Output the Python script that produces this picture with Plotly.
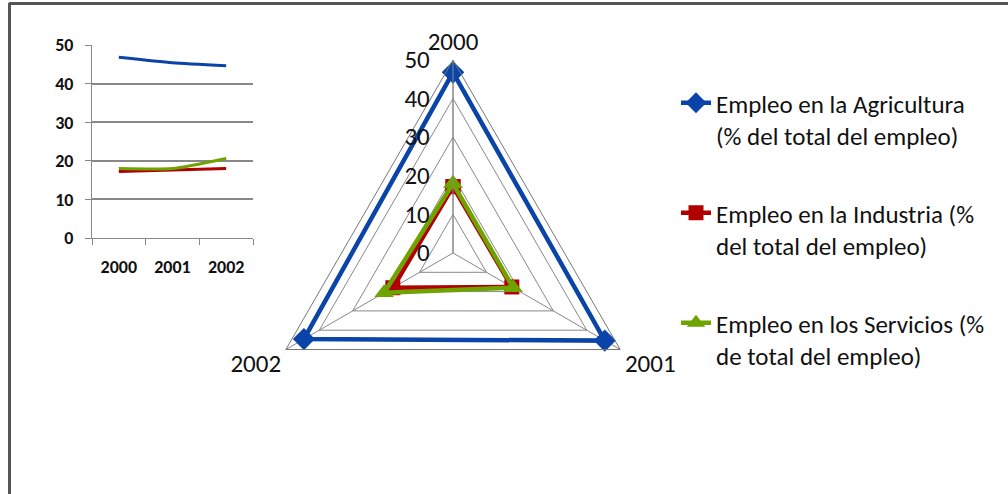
import plotly.graph_objects as go

# Employment share by sector (% of total employment)
years = ["2000", "2001", "2002"]
agricultura = [46.8, 45.4, 44.6]
industria = [17.2, 17.6, 18.0]
servicios = [18.0, 18.0, 20.6]

series_names = [
    "Empleo en la Agricultura<br>(% del total del empleo)",
    "Empleo en la Industria (%<br>del total del empleo)",
    "Empleo en los Servicios (%<br>de total del empleo)",
]
series_values = [agricultura, industria, servicios]
series_colors = ["#0B44A8", "#B00000", "#6FA300"]
series_symbols = ["diamond", "square", "triangle-up"]
marker_sizes = [17, 15, 17]

radial_ticks = [0, 10, 20, 30, 40, 50]

W, H = 1008, 494
FONT = "Carlito, Calibri, Liberation Sans, sans-serif"


def px_x(x):
    return x / W


def px_y(y):
    return 1 - y / H


fig = go.Figure()

# Radar chart (one closed triangle per sector)
for i, (name, vals) in enumerate(zip(series_names, series_values)):
    fig.add_trace(go.Scatterpolar(
        r=vals + vals[:1],
        theta=years + years[:1],
        mode="lines+markers",
        name=name,
        legendgroup=f"g{i}",
        line=dict(color=series_colors[i], width=4.5),
        marker=dict(symbol=series_symbols[i], size=marker_sizes[i],
                    color=series_colors[i]),
        subplot="polar",
    ))

# Small line chart of the same series
for i, vals in enumerate(series_values):
    fig.add_trace(go.Scatter(
        x=years, y=vals,
        mode="lines",
        line=dict(color=series_colors[i], width=3, shape="spline", smoothing=0.6),
        showlegend=False,
        xaxis="x", yaxis="y",
    ))

small_font = dict(size=18, family=FONT, color="#111", weight="bold")

fig.update_layout(
    width=W, height=H,
    margin=dict(l=0, r=0, t=0, b=0, autoexpand=False),
    paper_bgcolor="white",
    plot_bgcolor="white",
    font=dict(family=FONT, color="#111"),
    polar=dict(
        domain=dict(x=[px_x(260), px_x(646)], y=[px_y(446), px_y(60)]),
        gridshape="linear",
        bgcolor="white",
        radialaxis=dict(
            range=[0, 50], tickvals=radial_ticks,
            angle=90, side="counterclockwise",
            showline=True, linecolor="#888", linewidth=1,
            gridcolor="#888", gridwidth=1,
            ticks="outside", ticklen=14, tickcolor="rgba(0,0,0,0)",
            tickfont=dict(size=25, family=FONT, color="#111"),
            tickangle=90,
        ),
        angularaxis=dict(
            type="category", categoryarray=years,
            direction="clockwise", rotation=90,
            showline=True, linecolor="#777", linewidth=1,
            gridcolor="#888", gridwidth=1,
            ticks="", tickfont=dict(size=25, family=FONT, color="#111"),
        ),
    ),
    xaxis=dict(
        domain=[px_x(92), px_x(253)],
        anchor="y",
        type="category",
        range=[-0.5, 2.5],
        tickson="boundaries",
        ticks="outside", ticklen=6, tickcolor="#888",
        showline=True, linecolor="#888", linewidth=1,
        showgrid=False,
        tickfont=small_font,
        ticklabelstandoff=12,
    ),
    yaxis=dict(
        domain=[px_y(238), px_y(45)],
        anchor="x",
        range=[0, 50], dtick=10,
        ticks="outside", ticklen=6, tickcolor="#888",
        showline=True, linecolor="#888", linewidth=1,
        gridcolor="#888", gridwidth=1.5,
        zeroline=False,
        tickfont=small_font,
        ticklabelstandoff=8,
    ),
    legend=dict(
        x=px_x(676), y=px_y(80),
        xanchor="left", yanchor="top",
        font=dict(size=25, family=FONT, color="#111"),
        tracegroupgap=42,
        valign="top",
        bgcolor="rgba(0,0,0,0)",
    ),
    shapes=[
        dict(type="line", xref="paper", yref="paper",
             x0=px_x(9), x1=1, y0=px_y(3.5), y1=px_y(3.5),
             line=dict(color="#555", width=3)),
        dict(type="line", xref="paper", yref="paper",
             x0=px_x(9.5), x1=px_x(9.5), y0=0, y1=px_y(3),
             line=dict(color="#555", width=3)),
    ],
)

fig.write_html("out.html")
